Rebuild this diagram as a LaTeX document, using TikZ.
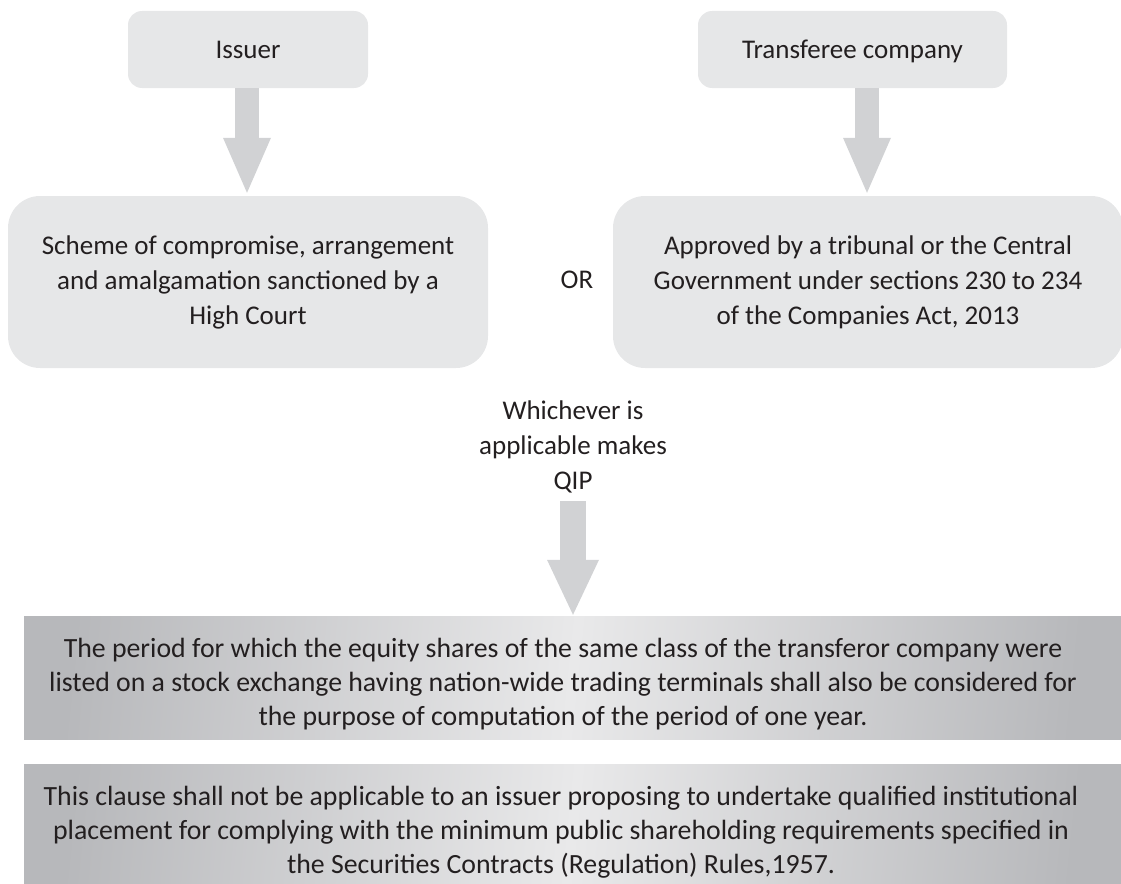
\documentclass[tikz,border=0pt]{standalone}
\usepackage{fontspec}
\setmainfont{Carlito}
\usetikzlibrary{arrows.meta,calc}

\definecolor{boxfill}{HTML}{E6E7E8}
\definecolor{arrowgray}{HTML}{D1D2D4}
\definecolor{inkdark}{HTML}{231F20}
\definecolor{bandedge}{HTML}{B7B8BB}
\definecolor{bandmid}{HTML}{E9E9EA}

\tikzset{
  softbox/.style={fill=boxfill, draw=none, rounded corners=#1, inner sep=0pt, align=center,
    text=inkdark, font=\fontsize{27}{35}\selectfont},
  softbox/.default=14pt,
  oneline/.style={text height=25pt, text depth=6pt},
  band/.style={draw=none, inner sep=0pt, left color=bandedge, right color=bandedge,
    middle color=bandmid, shading angle=84},
  bandtext/.style={align=center, text=inkdark, inner sep=0pt, font=\fontsize{27.8}{34}\selectfont},
  plaintext/.style={align=center, text=inkdark, inner sep=0pt, font=\fontsize{27}{35}\selectfont},
  blockarrow/.style={draw=arrowgray, line width=#1, line cap=butt,
    -{Triangle[width=2*#1, length=55pt, line width=0pt]}},
  blockarrow/.default=24pt,
}

\begin{document}
\begin{tikzpicture}[x=1pt, y=-1pt]
  \useasboundingbox (0,0) rectangle (1121,883);

  % top row
  \node[softbox, oneline, minimum width=240pt, minimum height=77pt] (issuer) at (248,49.5) {Issuer};
  \node[softbox, oneline, minimum width=309pt, minimum height=77pt] (transferee) at (852.5,49.5) {Transferee company};

  % second row
  \node[softbox=32pt, minimum width=480pt, minimum height=172pt] (scheme) at (248,282)
    {Scheme of compromise, arrangement\\ and amalgamation sanctioned by a\\ High Court};
  \node[softbox=32pt, minimum width=510pt, minimum height=172pt] (approved) at (868,282)
    {Approved by a tribunal or the Central\\ Government under sections 230 to 234\\ of the Companies Act, 2013};
  \node[plaintext] (or) at (577,280) {OR};

  \node[plaintext] (which) at (573,447) {Whichever is\\ applicable makes\\ QIP};

  % lower bands
  \node[band, minimum width=1097pt, minimum height=123pt] (band1) at (572.5,677.5) {};
  \node[bandtext] (band1text) at (563,684)
    {The period for which the equity shares of the same class of the transferor company were\\
     listed on a stock exchange having nation-wide trading terminals shall also be considered for\\
     the purpose of computation of the period of one year.};
  \node[band, minimum width=1097pt, minimum height=122pt] (band2) at (572.5,825) {};
  \node[bandtext] (band2text) at (561,832)
    {This clause shall not be applicable to an issuer proposing to undertake qualified institutional\\
     placement for complying with the minimum public shareholding requirements specified in\\
     the Securities Contracts (Regulation) Rules,1957.};

  % block arrows
  \coordinate (a1s) at ($(issuer.south)+(-1,0)$);
  \coordinate (a1e) at ($(scheme.north)+(-1,-3)$);
  \coordinate (a2s) at ($(transferee.south)+(14.5,0)$);
  \coordinate (a2e) at ($(approved.north)+(-1,-3)$);
  \coordinate (a3s) at ($(which.south)+(0,8)$);
  \coordinate (a3e) at ($(band1.north)+(0.5,-1)$);
  \draw[blockarrow] (a1s) -- (a1e);
  \draw[blockarrow] (a2s) -- (a2e);
  \draw[blockarrow=26pt] (a3s) -- (a3e);
\end{tikzpicture}
\end{document}
